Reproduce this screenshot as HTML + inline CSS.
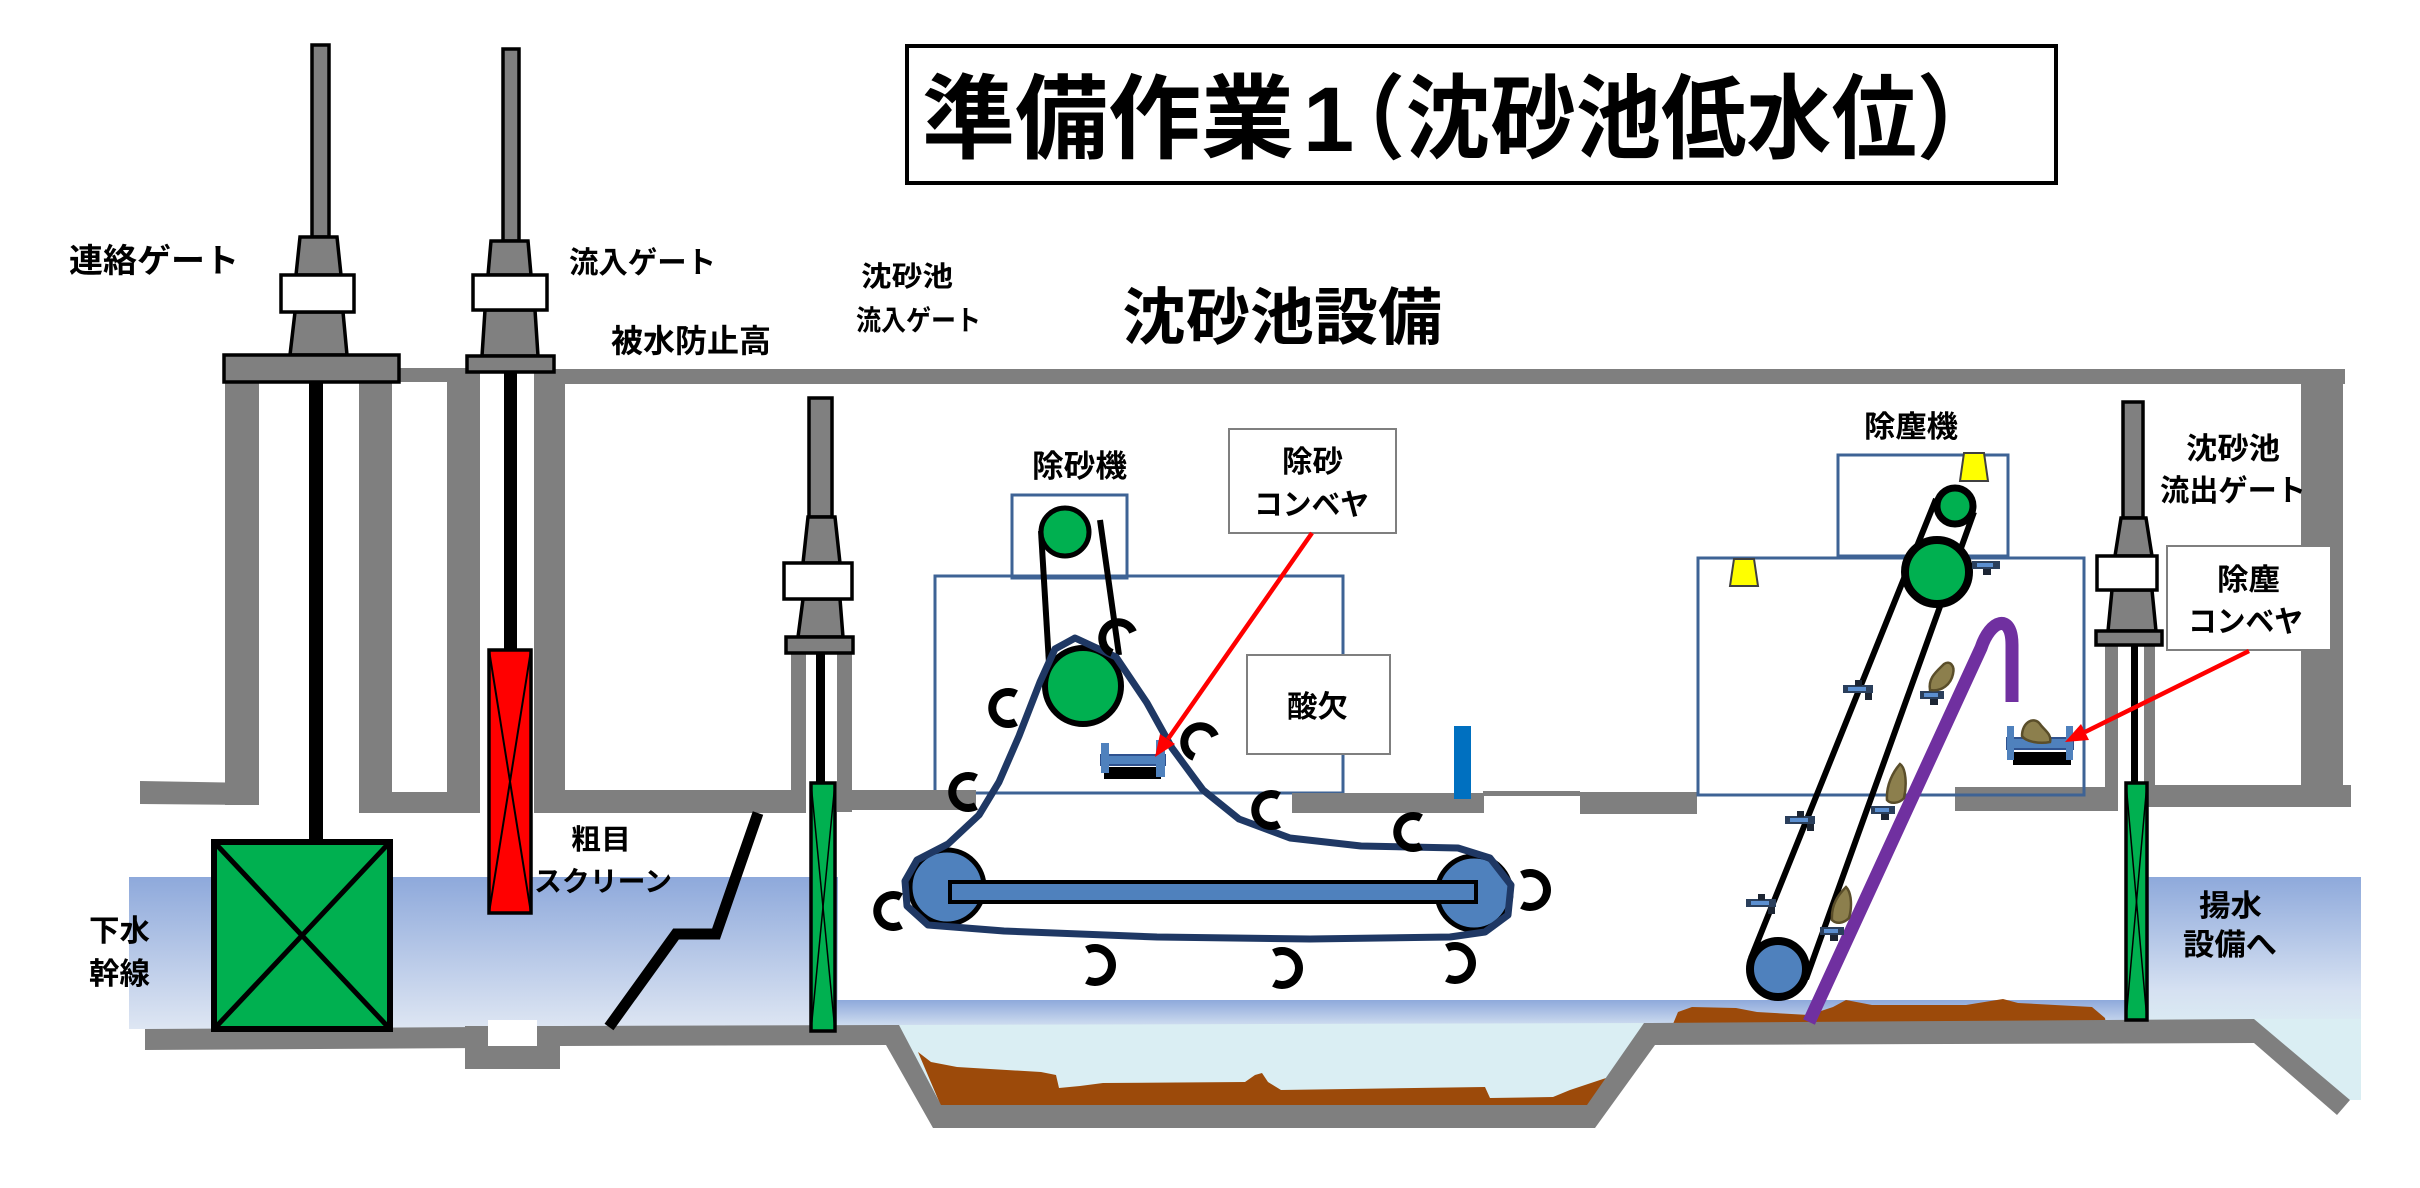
<!DOCTYPE html>
<html><head><meta charset="utf-8">
<style>
html,body{margin:0;padding:0;background:#fff;}
svg{display:block;}
text{font-family:"Liberation Sans","Noto Sans CJK JP",sans-serif;font-weight:bold;fill:#000;}
</style></head><body>
<svg width="2420" height="1188" viewBox="0 0 2420 1188" xmlns="http://www.w3.org/2000/svg">
<defs>
<linearGradient id="wL" x1="0" y1="0" x2="0" y2="1">
<stop offset="0" stop-color="#8EA9DB"/><stop offset="1" stop-color="#DEE6F3"/>
</linearGradient>
<linearGradient id="wB" x1="0" y1="0" x2="0" y2="1">
<stop offset="0" stop-color="#8EA9DB"/><stop offset="1" stop-color="#D3E0F1"/>
</linearGradient>
<linearGradient id="wR" x1="0" y1="0" x2="0" y2="1">
<stop offset="0" stop-color="#8EA9DB"/><stop offset="0.8" stop-color="#D6E1F2"/><stop offset="1" stop-color="#DAEAF3"/>
</linearGradient>
</defs>

<!-- water -->
<rect x="129" y="877" width="709" height="152" fill="url(#wL)"/>
<rect x="836" y="1000" width="1290" height="27" fill="url(#wB)"/>
<polygon points="895,1025 941,1105 1587,1105 1648,1023" fill="#DAEEF3"/>
<rect x="2147" y="877" width="214" height="143" fill="url(#wR)"/>
<polygon points="2250,1019 2361,1019 2361,1100 2350,1100" fill="#DAEEF3"/>

<!-- sludge -->
<polygon points="918,1052 931,1062 957,1067 1041,1072 1056,1075 1059,1088 1080,1086 1103,1083 1245,1082 1255,1075 1262,1073 1268,1082 1281,1090 1485,1087 1490,1098 1553,1097 1570,1090 1606,1078 1592,1106 941,1106" fill="#9C4A0A"/>
<polygon points="1673,1024 1678,1012 1692,1007 1736,1008 1757,1012 1809,1015 1833,1007 1846,1000 1872,1005 1966,1005 2003,999 2018,1003 2092,1007 2105,1018 2106,1024" fill="#9C4A0A"/>

<!-- floor -->
<g fill="#7F7F7F">
<polygon points="145,1029 482,1027 482,1048 145,1050"/>
<rect x="465" y="1026" width="95" height="43"/>
<polygon points="560,1026 899,1025 941,1105 1587,1105 1644,1023 2254,1019 2350,1100 2337,1115 2254,1043 1655,1045 1595,1128 933,1128 886,1045 560,1046"/>
</g>
<rect x="488" y="1020" width="49" height="26" fill="#fff"/>

<!-- walls -->
<g fill="#7F7F7F">
<polygon points="140,781 257,783 257,805 140,804"/>
<rect x="225" y="382" width="34" height="423"/>
<rect x="359" y="382" width="33" height="431"/>
<rect x="359" y="792" width="121" height="21"/>
<rect x="447" y="368" width="33" height="445"/>
<rect x="399" y="368" width="68" height="14"/>
<rect x="534" y="372" width="31" height="441"/>
<rect x="534" y="790" width="257" height="23"/>
<rect x="553" y="369" width="1792" height="15"/>
<rect x="791" y="653" width="15" height="160"/>
<rect x="837" y="653" width="15" height="159"/>
<rect x="837" y="790" width="139" height="20"/>
<rect x="1292" y="793" width="192" height="20"/>
<rect x="1483" y="791" width="97" height="5"/>
<rect x="1580" y="792" width="117" height="22"/>
<rect x="1955" y="787" width="163" height="24"/>
<rect x="2105" y="645" width="13" height="166"/>
<rect x="2144" y="645" width="11" height="162"/>
<rect x="2144" y="785" width="207" height="22"/>
<rect x="2301" y="369" width="42" height="436"/>
</g>

<!-- machine housings -->
<g fill="none" stroke="#3E6395" stroke-width="3">
<rect x="1012" y="495" width="115" height="83"/>
<rect x="935" y="576" width="408" height="217"/>
<rect x="1838" y="455" width="170" height="101"/>
<rect x="1698" y="558" width="386" height="237"/>
</g>
<rect x="837" y="790" width="139" height="20" fill="#7F7F7F"/>
<rect x="1292" y="793" width="192" height="20" fill="#7F7F7F"/>
<rect x="1454" y="726" width="17" height="73" fill="#0070C0"/>

<!-- Gate A 連絡ゲート -->
<g stroke="#000" stroke-width="3.5" fill="#808080">
<rect x="309" y="382" width="14" height="460" fill="#000" stroke="none"/>
<rect x="312" y="45" width="17" height="192"/>
<polygon points="300,237 337,237 341,275 296,275"/>
<polygon points="295,312 343,312 347,355 290,355"/>
<rect x="281" y="275" width="73" height="37" fill="#fff"/>
<rect x="224" y="355" width="175" height="27"/>
</g>
<g stroke="#000">
<rect x="214" y="842" width="176" height="187" fill="#00B050" stroke-width="6"/>
<line x1="214" y1="842" x2="390" y2="1029" stroke-width="5"/>
<line x1="390" y1="842" x2="214" y2="1029" stroke-width="5"/>
</g>

<!-- Gate B 流入ゲート -->
<g stroke="#000" stroke-width="3.5" fill="#808080">
<rect x="504" y="372" width="13" height="278" fill="#000" stroke="none"/>
<rect x="503" y="49" width="16" height="192"/>
<polygon points="491,241 528,241 531,275 488,275"/>
<polygon points="485,310 535,310 538,356 482,356"/>
<rect x="473" y="275" width="74" height="35" fill="#fff"/>
<rect x="467" y="356" width="87" height="16"/>
<rect x="489" y="650" width="42" height="263" fill="#FF0000"/>
<line x1="489" y1="650" x2="531" y2="913" stroke-width="2"/>
<line x1="531" y1="650" x2="489" y2="913" stroke-width="2"/>
</g>

<!-- Gate C 沈砂池流入ゲート -->
<g stroke="#000" stroke-width="3.5" fill="#808080">
<rect x="816" y="653" width="9" height="130" fill="#000" stroke="none"/>
<rect x="809" y="398" width="23" height="119"/>
<polygon points="808,517 835,517 840,563 803,563"/>
<polygon points="803,599 840,599 843,637 798,637"/>
<rect x="784" y="563" width="68" height="36" fill="#fff"/>
<rect x="786" y="637" width="67" height="16"/>
<rect x="811" y="783" width="24" height="248" fill="#00B050"/>
<line x1="811" y1="783" x2="835" y2="1031" stroke-width="1.5"/>
<line x1="835" y1="783" x2="811" y2="1031" stroke-width="1.5"/>
</g>

<!-- Gate D 沈砂池流出ゲート -->
<g stroke="#000" stroke-width="3.5" fill="#808080">
<rect x="2131" y="645" width="7" height="138" fill="#000" stroke="none"/>
<rect x="2123" y="402" width="20" height="116"/>
<polygon points="2121,518 2146,518 2152,556 2115,556"/>
<polygon points="2112,590 2152,590 2156,631 2108,631"/>
<rect x="2097" y="556" width="60" height="34" fill="#fff"/>
<rect x="2096" y="631" width="66" height="14"/>
<rect x="2126" y="783" width="21" height="237" fill="#00B050"/>
<line x1="2126" y1="783" x2="2147" y2="1020" stroke-width="1.5"/>
<line x1="2147" y1="783" x2="2126" y2="1020" stroke-width="1.5"/>
</g>

<!-- coarse screen -->
<polyline points="758,813 716,934 676,934 609,1027" fill="none" stroke="#000" stroke-width="11" stroke-linejoin="miter"/>

<!-- 除砂機 machinery -->
<g stroke="#000" fill="none" stroke-width="6">
<line x1="1041" y1="531" x2="1050" y2="680"/>
<line x1="1100" y1="520" x2="1119" y2="655"/>
</g>
<circle cx="1065" cy="532" r="24" fill="#00B050" stroke="#000" stroke-width="5"/>
<circle cx="1083" cy="686" r="38" fill="#00B050" stroke="#000" stroke-width="6"/>
<circle cx="947" cy="887" r="37" fill="#4F81BD" stroke="#000" stroke-width="5"/>
<circle cx="1474" cy="893" r="37" fill="#4F81BD" stroke="#000" stroke-width="5"/>
<rect x="950" y="882" width="526" height="20" fill="#4F81BD" stroke="#000" stroke-width="4"/>
<polygon points="1075,638 1116,657 1147,703 1172,748 1203,790 1239,819 1290,838 1361,846 1458,848 1490,858 1511,885 1508,915 1485,932 1450,937 1310,939 1157,937 1004,931 928,925 907,906 905,881 917,860 948,844 979,815 999,782 1019,736 1040,682 1055,649" fill="none" stroke="#1F3864" stroke-width="7" stroke-linejoin="round"/>

<!-- hooks -->
<g fill="none" stroke="#000" stroke-width="8">
<path d="M1133,632 A16 16 0 1 0 1112,653"/>
<path d="M1016,694 A16 16 0 1 0 1016,722"/>
<path d="M976,778 A16 16 0 1 0 976,806"/>
<path d="M1215,736 A16 16 0 1 0 1194,757"/>
<path d="M1279,796 A16 16 0 1 0 1279,824"/>
<path d="M1421,818 A16 16 0 1 0 1421,846"/>
<path d="M1522,875 A17 17 0 1 1 1522,905"/>
<path d="M901,897 A16 16 0 1 0 901,925"/>
<path d="M1087,950 A17 17 0 1 1 1087,980"/>
<path d="M1274,953 A17 17 0 1 1 1274,983"/>
<path d="M1447,948 A17 17 0 1 1 1447,978"/>
</g>

<!-- 除砂コンベヤ small conveyor -->
<rect x="1104" y="767" width="57" height="12" fill="#000"/>
<rect x="1101" y="755" width="64" height="10" fill="#4F81BD" stroke="#2F528F" stroke-width="2"/>
<rect x="1101" y="743" width="8" height="30" fill="#4F81BD"/>
<rect x="1156" y="740" width="9" height="37" fill="#4F81BD"/>

<!-- 除塵機 machinery -->
<path d="M1809,1022 L1981,648 C1990,620 2012,612 2012,645 L2012,702" fill="none" stroke="#7030A0" stroke-width="13"/>
<g stroke="#000" stroke-width="6">
<line x1="1936" y1="499" x2="1751" y2="958"/>
<line x1="1974" y1="512" x2="1806" y2="979"/>
</g>
<circle cx="1955" cy="506" r="18" fill="#00B050" stroke="#000" stroke-width="7"/>
<circle cx="1937" cy="572" r="32" fill="#00B050" stroke="#000" stroke-width="8"/>
<circle cx="1778" cy="969" r="28" fill="#4F81BD" stroke="#000" stroke-width="8"/>
<polygon points="1964,453 1984,453 1988,481 1960,481" fill="#FFFF00" stroke="#404040" stroke-width="2"/>
<polygon points="1734,559 1754,559 1758,586 1730,586" fill="#FFFF00" stroke="#404040" stroke-width="2"/>

<!-- scrapers -->
<g id="sc">
<g transform="translate(1859,690)"><rect x="-16" y="-5" width="30" height="8" fill="#2A3F5C"/><rect x="-11" y="-3" width="18" height="4" fill="#5B8FD0"/><rect x="-4" y="-10" width="7" height="6" fill="#1C2533"/><rect x="6" y="3" width="7" height="7" fill="#1C2533"/></g>
<g transform="translate(1801,821)"><rect x="-16" y="-5" width="30" height="8" fill="#2A3F5C"/><rect x="-11" y="-3" width="18" height="4" fill="#5B8FD0"/><rect x="-4" y="-10" width="7" height="6" fill="#1C2533"/><rect x="6" y="3" width="7" height="7" fill="#1C2533"/></g>
<g transform="translate(1762,904)"><rect x="-16" y="-5" width="30" height="8" fill="#2A3F5C"/><rect x="-11" y="-3" width="18" height="4" fill="#5B8FD0"/><rect x="-4" y="-10" width="7" height="6" fill="#1C2533"/><rect x="6" y="3" width="7" height="7" fill="#1C2533"/></g>
<g transform="translate(1932,696)"><rect x="-12" y="-5" width="24" height="8" fill="#2A3F5C"/><rect x="-8" y="-3" width="14" height="4" fill="#5B8FD0"/><rect x="-2" y="3" width="8" height="6" fill="#1C2533"/></g>
<g transform="translate(1883,811)"><rect x="-12" y="-5" width="24" height="8" fill="#2A3F5C"/><rect x="-8" y="-3" width="14" height="4" fill="#5B8FD0"/><rect x="-2" y="3" width="8" height="6" fill="#1C2533"/></g>
<g transform="translate(1832,932)"><rect x="-12" y="-5" width="24" height="8" fill="#2A3F5C"/><rect x="-8" y="-3" width="14" height="4" fill="#5B8FD0"/><rect x="-2" y="3" width="8" height="6" fill="#1C2533"/></g>
<g transform="translate(1986,566)"><rect x="-14" y="-5" width="28" height="8" fill="#2A3F5C"/><rect x="-9" y="-3" width="16" height="4" fill="#5B8FD0"/><rect x="-3" y="3" width="8" height="6" fill="#1C2533"/></g>
</g>

<!-- debris -->
<g fill="#8C7F4D" stroke="#5A4E2A" stroke-width="2.5">
<path d="M1930,690 C1928,678 1936,672 1944,664 C1950,660 1955,666 1953,674 C1951,684 1942,692 1930,690 Z"/>
<path d="M1887,800 C1886,785 1893,772 1900,764 C1906,768 1907,785 1904,798 C1899,804 1890,804 1887,800 Z"/>
<path d="M1832,920 C1831,905 1838,895 1846,887 C1852,893 1852,908 1849,918 C1843,924 1836,924 1832,920 Z"/>
</g>

<!-- 除塵コンベヤ small conveyor -->
<rect x="2013" y="752" width="58" height="13" fill="#000"/>
<rect x="2007" y="738" width="66" height="11" fill="#4F81BD" stroke="#2F528F" stroke-width="2"/>
<rect x="2007" y="726" width="7" height="34" fill="#4F81BD"/>
<rect x="2066" y="726" width="7" height="34" fill="#4F81BD"/>
<path d="M2022,736 C2022,722 2034,716 2040,724 C2044,730 2052,734 2050,742 C2040,744 2026,742 2022,736 Z" fill="#8C7F4D" stroke="#5A4E2A" stroke-width="2.5"/>

<!-- label boxes -->
<g fill="#fff" stroke="#7F7F7F" stroke-width="2">
<rect x="1229" y="429" width="167" height="104"/>
<rect x="1247" y="655" width="143" height="99"/>
<rect x="2167" y="546" width="164" height="104"/>
</g>

<!-- red arrows -->
<g stroke="#FF0000" stroke-width="4.5">
<line x1="1312" y1="533" x2="1168" y2="739"/>
<line x1="2249" y1="651" x2="2085" y2="732"/>
</g>
<polygon points="1155,757 1175,744 1160,734" fill="#FF0000"/>
<polygon points="2065,742 2089,740 2081,724" fill="#FF0000"/>

<!-- title -->
<rect x="907" y="46" width="1149" height="137" fill="#fff" stroke="#000" stroke-width="4"/>
<text x="922" y="151" font-size="92" textLength="372" lengthAdjust="spacingAndGlyphs">準備作業</text>
<text x="1303" y="151" font-size="92">1</text>
<text x="1320" y="151" font-size="92" textLength="682" lengthAdjust="spacingAndGlyphs">（沈砂池低水位）</text>

<text x="1122" y="339" font-size="62" textLength="320" lengthAdjust="spacingAndGlyphs">沈砂池設備</text>

<!-- labels -->
<text x="69" y="272" font-size="33" textLength="170" lengthAdjust="spacingAndGlyphs">連絡ゲート</text>
<text x="569" y="273" font-size="30" textLength="147" lengthAdjust="spacingAndGlyphs">流入ゲート</text>
<text x="611" y="352" font-size="32" textLength="160" lengthAdjust="spacingAndGlyphs">被水防止高</text>
<text x="861" y="286" font-size="28" textLength="92" lengthAdjust="spacingAndGlyphs">沈砂池</text>
<text x="856" y="330" font-size="28" textLength="125" lengthAdjust="spacingAndGlyphs">流入ゲート</text>
<text x="571" y="849" font-size="28" textLength="60" lengthAdjust="spacingAndGlyphs">粗目</text>
<text x="534" y="891" font-size="28" textLength="138" lengthAdjust="spacingAndGlyphs">スクリーン</text>
<text x="89" y="941" font-size="30" textLength="61" lengthAdjust="spacingAndGlyphs">下水</text>
<text x="89" y="984" font-size="30" textLength="61" lengthAdjust="spacingAndGlyphs">幹線</text>
<text x="1032" y="477" font-size="31" textLength="95" lengthAdjust="spacingAndGlyphs">除砂機</text>
<text x="1282" y="472" font-size="30" textLength="61" lengthAdjust="spacingAndGlyphs">除砂</text>
<text x="1254" y="515" font-size="30" textLength="115" lengthAdjust="spacingAndGlyphs">コンベヤ</text>
<text x="1287" y="717" font-size="30" textLength="61" lengthAdjust="spacingAndGlyphs">酸欠</text>
<text x="1864" y="437" font-size="30" textLength="94" lengthAdjust="spacingAndGlyphs">除塵機</text>
<text x="2186" y="459" font-size="30" textLength="94" lengthAdjust="spacingAndGlyphs">沈砂池</text>
<text x="2160" y="501" font-size="30" textLength="146" lengthAdjust="spacingAndGlyphs">流出ゲート</text>
<text x="2217" y="590" font-size="30" textLength="63" lengthAdjust="spacingAndGlyphs">除塵</text>
<text x="2188" y="632" font-size="30" textLength="115" lengthAdjust="spacingAndGlyphs">コンベヤ</text>
<text x="2199" y="916" font-size="30" textLength="63" lengthAdjust="spacingAndGlyphs">揚水</text>
<text x="2183" y="955" font-size="30" textLength="94" lengthAdjust="spacingAndGlyphs">設備へ</text>
</svg>
</body></html>
